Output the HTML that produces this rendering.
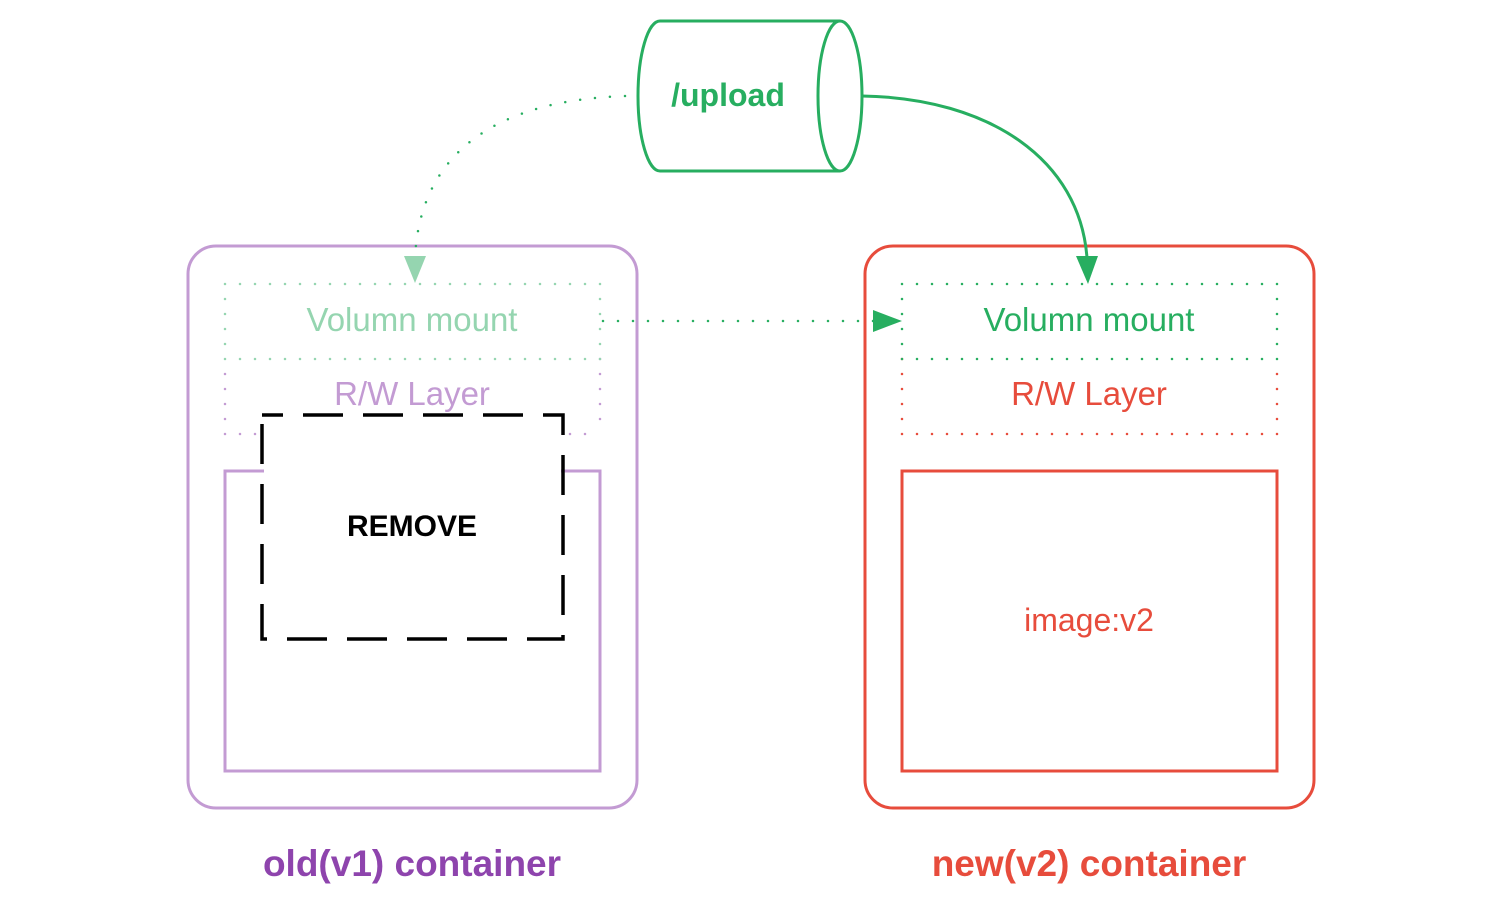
<!DOCTYPE html>
<html><head><meta charset="utf-8"><style>
html,body{margin:0;padding:0;background:#fff;}
svg{display:block;}
text{font-family:"Liberation Sans",sans-serif;}
</style></head><body>
<svg width="1493" height="910" viewBox="0 0 1493 910" xmlns="http://www.w3.org/2000/svg">
<!-- left container -->
<rect x="188" y="246" width="449" height="562" rx="28" fill="none" stroke="#c39bd3" stroke-width="3"/>
<rect x="225" y="471" width="375" height="300" fill="none" stroke="#c39bd3" stroke-width="3"/>
<g fill="none" stroke-width="2.5" stroke-linecap="round">
<path d="M225 434 V359 M600 359 V434 M225 434 H600" stroke="#c39bd3" stroke-dasharray="0 15"/>
<path d="M225 284 H600 V359 H225 Z" stroke="#95d5b0" stroke-dasharray="0 15"/>
</g>
<rect x="264" y="417" width="297" height="220" fill="#fff"/>
<path d="M262 415 H563 V639 H262 Z" fill="none" stroke="#000" stroke-width="3.5" stroke-dasharray="40 20" stroke-dashoffset="19"/>
<text x="412" y="331" text-anchor="middle" font-size="33" fill="#95d5b0">Volumn mount</text>
<text x="412" y="405" text-anchor="middle" font-size="33" fill="#c39bd3">R/W Layer</text>
<text x="412" y="536" text-anchor="middle" font-size="30" font-weight="bold" fill="#000">REMOVE</text>
<text x="412" y="876" text-anchor="middle" font-size="37" font-weight="bold" fill="#8e44ad">old(v1) container</text>

<!-- right container -->
<rect x="865" y="246" width="449" height="562" rx="28" fill="none" stroke="#e74c3c" stroke-width="3"/>
<rect x="902" y="471" width="375" height="300" fill="none" stroke="#e74c3c" stroke-width="3"/>
<g fill="none" stroke-width="2.5" stroke-linecap="round">
<path d="M902 359 V434 H1277 V359" stroke="#e74c3c" stroke-dasharray="0 15"/>
<path d="M902 284 H1277 V359 H902 Z" stroke="#27ae60" stroke-dasharray="0 15"/>
</g>
<text x="1089" y="331" text-anchor="middle" font-size="33" fill="#27ae60">Volumn mount</text>
<text x="1089" y="405" text-anchor="middle" font-size="33" fill="#e74c3c">R/W Layer</text>
<text x="1089" y="631" text-anchor="middle" font-size="32" fill="#e74c3c">image:v2</text>
<text x="1089" y="876" text-anchor="middle" font-size="37" font-weight="bold" fill="#e74c3c">new(v2) container</text>

<!-- cylinder -->
<path d="M660 21 H840 M660 171 H840 M660 21 A22 75 0 0 0 660 171" fill="#fff" stroke="#27ae60" stroke-width="3"/>
<ellipse cx="840" cy="96" rx="22" ry="75" fill="#fff" stroke="#27ae60" stroke-width="3"/>
<text x="728" y="106" text-anchor="middle" font-size="32" font-weight="bold" fill="#27ae60">/upload</text>

<!-- connectors -->
<path d="M625 96 C500 100 420 150 415 258" fill="none" stroke="#27ae60" stroke-width="2.5" stroke-linecap="round" stroke-dasharray="0 15"/>
<polygon points="404,256 426,256 415,283" fill="#95d5b0"/>
<path d="M862 96 C990 98 1080 160 1087 258" fill="none" stroke="#27ae60" stroke-width="3"/>
<polygon points="1076,256 1098,256 1088,284" fill="#27ae60"/>
<path d="M603 321 H875" fill="none" stroke="#27ae60" stroke-width="2.5" stroke-linecap="round" stroke-dasharray="0 15"/>
<polygon points="873,310 873,332 902,321" fill="#27ae60"/>
</svg>
</body></html>
